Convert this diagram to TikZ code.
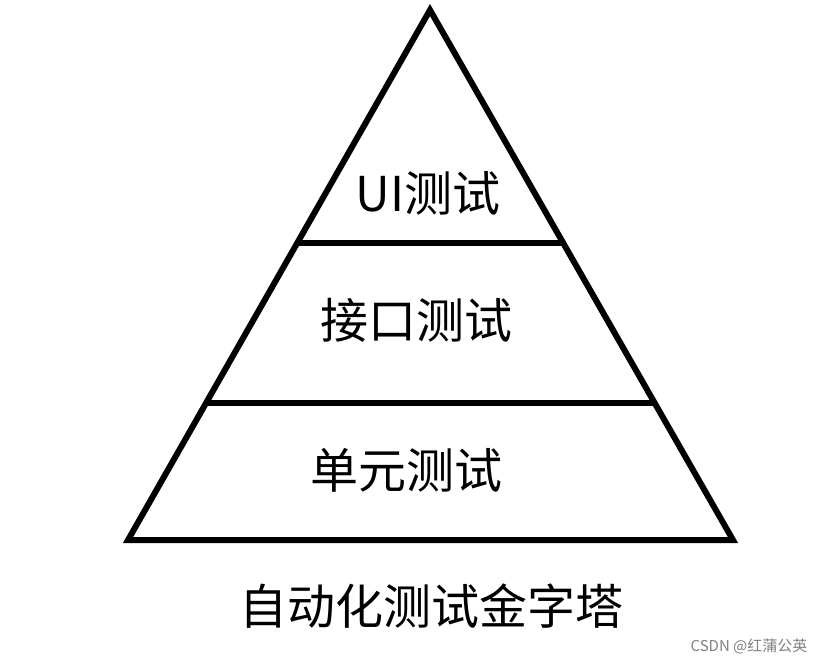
\documentclass[tikz,border=0pt]{standalone}
\usepackage{fontspec}
\setmainfont{Noto Sans CJK SC}
\begin{document}
\begin{tikzpicture}[x=1pt,y=-1pt,
  edge/.style={line width=6pt,line join=miter},
  lbl/.style={font=\fontsize{48}{48}\selectfont,inner sep=0pt}]
\useasboundingbox (0,0) rectangle (814,665);
\coordinate (apex) at (430,10);
\coordinate (bl) at (128,540);
\coordinate (br) at (733,540);
\coordinate (l1) at (297,243);
\coordinate (r1) at (564,243);
\coordinate (l2) at (206,403);
\coordinate (r2) at (655,403);
\draw[edge] (apex) -- (br) -- (bl) -- cycle;
\draw[edge] (l1) -- (r1);
\draw[edge] (l2) -- (r2);
\node[lbl] (ui) at (428,193) {UI测试};
\node[lbl] (api) at (416,320) {接口测试};
\node[lbl] (unit) at (406,470) {单元测试};
\node[lbl] (title) at (431,606) {自动化测试金字塔};
\node[font=\fontsize{15}{15}\selectfont,text=gray,inner sep=0pt] (wm) at (749,646) {CSDN @红蒲公英};
\end{tikzpicture}
\end{document}
